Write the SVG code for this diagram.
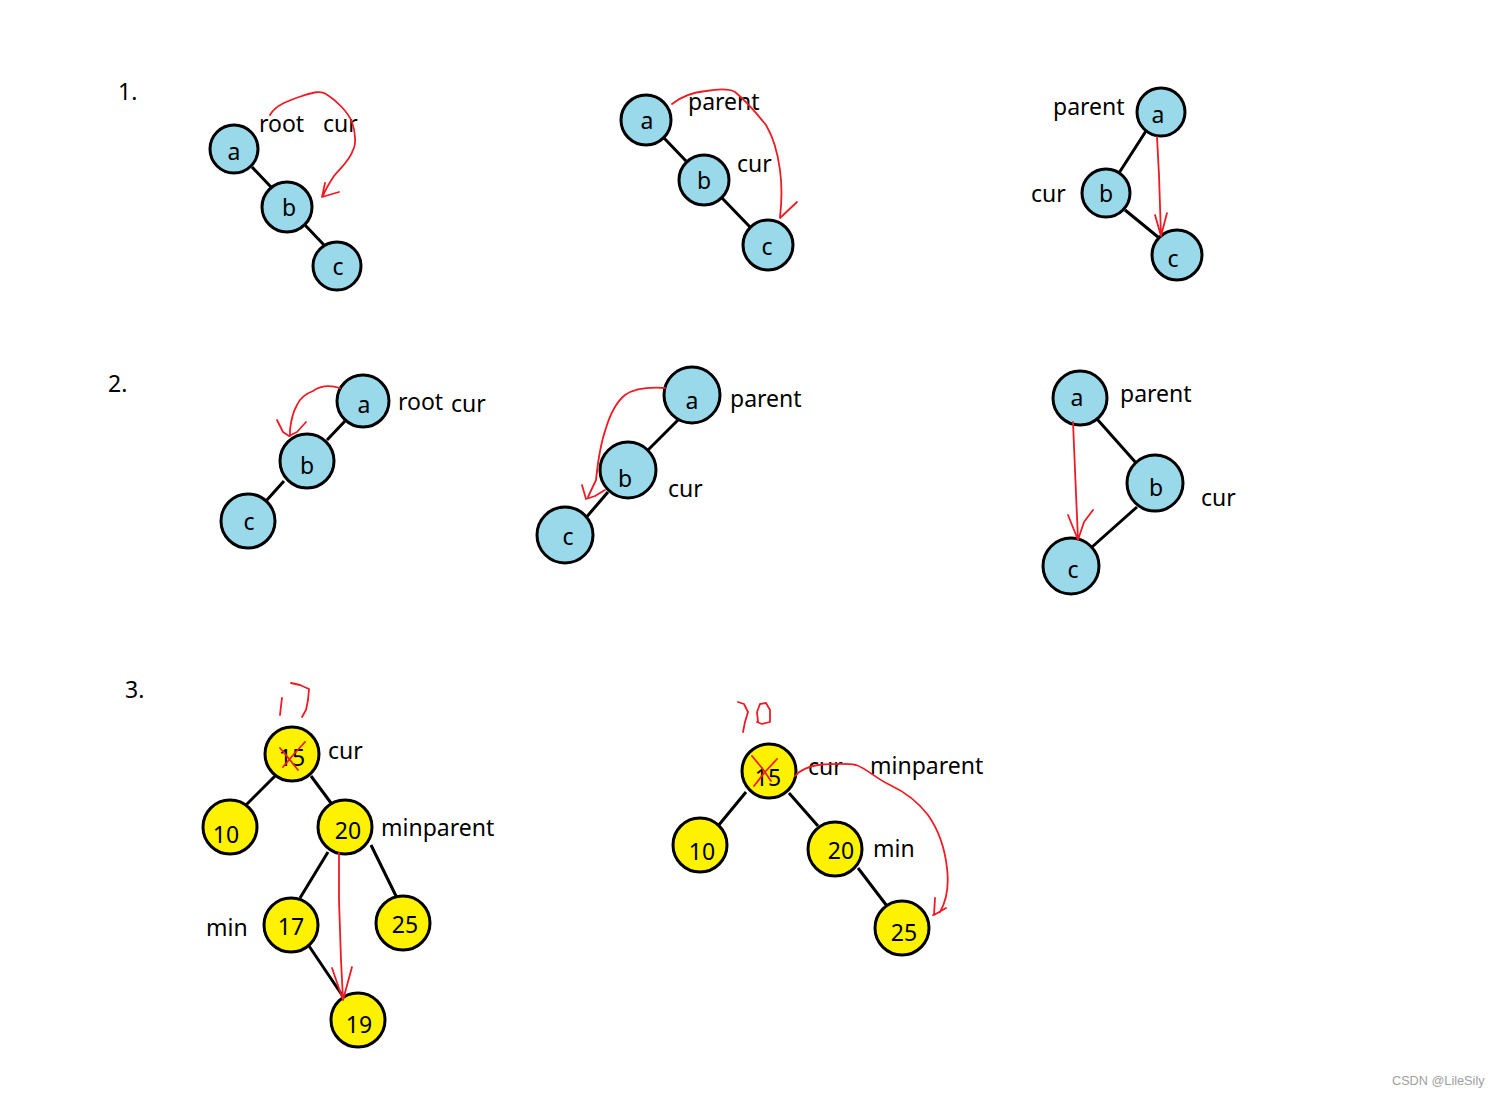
<svg xmlns="http://www.w3.org/2000/svg" width="1500" height="1097" viewBox="0 0 1500 1097">
<style>
.b{fill:#99d9ea;stroke:#000;stroke-width:3}
.y{fill:#fff200;stroke:#000;stroke-width:3}
.t{font-family:"Noto Sans","Open Sans","Liberation Sans",sans-serif;font-size:23px;fill:#000}
.n{font-family:"Noto Sans","Open Sans","Liberation Sans",sans-serif;font-size:23px;fill:#000;text-anchor:middle}
.e{stroke:#000;stroke-width:3;fill:none}
.r{stroke:#ed1c24;stroke-width:1.8;fill:none;stroke-linecap:round;stroke-linejoin:round}
</style>
<rect width="1500" height="1097" fill="#fff"/>
<text class="t" x="118" y="100">1.</text>
<text class="t" x="108" y="392">2.</text>
<text class="t" x="125" y="698">3.</text>

<g id="connectors">
<path class="e" d="M252 167L271 187M305 225L324 245"/>
<path class="e" d="M664 138L686 161M722 198L750 227"/>
<path class="e" d="M1146 131L1119 173M1125 210L1158 237"/>
<path class="e" d="M346 420L327 440M284 481L266 501"/>
<path class="e" d="M683 415L645 453M608 492L584 520"/>
<path class="e" d="M1097 419L1137 464M1137 507L1092 547"/>
<path class="e" d="M275 776L243 808M311 776L331 803M328 852L300 898M371 845L396 896M309 946L342 995"/>
<path class="e" d="M746 792L718 826M789 793L818 826M858 868L890 910"/>
</g>

<g id="p1a"><circle class="b" cx="234" cy="149" r="24"/><text class="n" x="234" y="160">a</text></g>
<g id="p1b"><circle class="b" cx="287" cy="207" r="25"/><text class="n" x="289" y="216">b</text></g>
<g id="p1c"><circle class="b" cx="337" cy="266" r="24"/><text class="n" x="338" y="275">c</text></g>
<text class="t" x="259" y="132">root</text>
<text class="t" x="323" y="132">cur</text>
<path class="r" d="M270 115C275 105 290 100 302 96C312 93 320 90 326 94C336 100 348 112 352 122C356 134 356 145 353 150C349 162 340 168 334 176C330 182 326 188 323 196M325 183L322 197L339 192"/>

<g id="p2a"><circle class="b" cx="646" cy="120" r="25"/><text class="n" x="647" y="129">a</text></g>
<g id="p2b"><circle class="b" cx="704" cy="180" r="25"/><text class="n" x="704" y="189">b</text></g>
<g id="p2c"><circle class="b" cx="768" cy="245" r="25"/><text class="n" x="767" y="255">c</text></g>
<text class="t" x="688" y="110">parent</text>
<text class="t" x="737" y="172">cur</text>
<path class="r" d="M672 104C682 96 695 92 706 91C718 89 728 88 735 92C745 100 758 115 766 125C775 140 778 155 780 170C782 185 782 200 780 217M780 218L797 202"/>

<g id="p3a"><circle class="b" cx="1161" cy="112" r="24"/><text class="n" x="1158" y="123">a</text></g>
<g id="p3b"><circle class="b" cx="1106" cy="193" r="24"/><text class="n" x="1106" y="202">b</text></g>
<g id="p3c"><circle class="b" cx="1177" cy="255" r="25"/><text class="n" x="1173" y="267">c</text></g>
<text class="t" x="1053" y="115">parent</text>
<text class="t" x="1031" y="202">cur</text>
<path class="r" d="M1157 137L1159 175L1161 236M1155 215L1161 236L1167 213"/>

<g id="q1a"><circle class="b" cx="363" cy="401" r="26"/><text class="n" x="364" y="413">a</text></g>
<g id="q1b"><circle class="b" cx="307" cy="461" r="27"/><text class="n" x="307" y="474">b</text></g>
<g id="q1c"><circle class="b" cx="248" cy="521" r="27"/><text class="n" x="249" y="530">c</text></g>
<text class="t" x="398" y="410">root</text>
<text class="t" x="451" y="412">cur</text>
<path class="r" d="M340 388C330 385 320 386 313 391C305 394 300 398 297 405C293 412 291 420 290 430L290 436M277 420L283 432L289 436L297 432L306 422"/>

<g id="q2a"><circle class="b" cx="692" cy="395" r="28"/><text class="n" x="692" y="409">a</text></g>
<g id="q2b"><circle class="b" cx="628" cy="470" r="28"/><text class="n" x="625" y="487">b</text></g>
<g id="q2c"><circle class="b" cx="565" cy="535" r="28"/><text class="n" x="568" y="545">c</text></g>
<text class="t" x="730" y="407">parent</text>
<text class="t" x="668" y="497">cur</text>
<path class="r" d="M665 388C650 387 635 388 625 395C615 403 610 415 606 428C600 445 598 460 596 480L588 497M582 485L586 499L595 496L605 490"/>

<g id="q3a"><circle class="b" cx="1080" cy="398" r="27"/><text class="n" x="1077" y="406">a</text></g>
<g id="q3b"><circle class="b" cx="1155" cy="483" r="28"/><text class="n" x="1156" y="496">b</text></g>
<g id="q3c"><circle class="b" cx="1071" cy="566" r="28"/><text class="n" x="1073" y="578">c</text></g>
<text class="t" x="1120" y="402">parent</text>
<text class="t" x="1201" y="506">cur</text>
<path class="r" d="M1073 422L1075 470L1078 540M1068 515L1072 525L1078 540L1084 522L1093 510"/>

<g id="s15"><circle class="y" cx="292" cy="754" r="27"/><text class="n" x="292" y="766">15</text></g>
<g id="s10"><circle class="y" cx="230" cy="827" r="27"/><text class="n" x="226" y="843">10</text></g>
<g id="s20"><circle class="y" cx="345" cy="827" r="27"/><text class="n" x="348" y="839">20</text></g>
<g id="s17"><circle class="y" cx="291" cy="925" r="27"/><text class="n" x="291" y="935">17</text></g>
<g id="s25"><circle class="y" cx="403" cy="923" r="27"/><text class="n" x="405" y="933">25</text></g>
<g id="s19"><circle class="y" cx="358" cy="1020" r="27"/><text class="n" x="359" y="1033">19</text></g>
<text class="t" x="328" y="759">cur</text>
<text class="t" x="381" y="836">minparent</text>
<text class="t" x="206" y="936">min</text>
<path class="r" d="M280 748L290 760L298 770M305 742L294 754L283 767"/>
<path class="r" d="M282 698L281 706L280 715M291 683L300 685L309 689L308 700L306 710L302 717"/>
<path class="r" d="M339 853L339 900L341 960L343 1000M332 968L343 1000L352 967"/>

<g id="t15"><circle class="y" cx="769" cy="771" r="27"/><text class="n" x="768" y="786">15</text></g>
<g id="t10"><circle class="y" cx="700" cy="845" r="27"/><text class="n" x="702" y="860">10</text></g>
<g id="t20"><circle class="y" cx="835" cy="849" r="27"/><text class="n" x="841" y="859">20</text></g>
<g id="t25"><circle class="y" cx="902" cy="928" r="27"/><text class="n" x="904" y="941">25</text></g>
<text class="t" x="808" y="775">cur</text>
<text class="t" x="870" y="774">minparent</text>
<text class="t" x="873" y="857">min</text>
<path class="r" d="M752 756L762 768L771 781M777 759L765 772L754 786"/>
<path class="r" d="M738 702L744 704L748 712L745 722L743 732M758 722L757 712L760 704L766 703L770 710L770 722L762 724L757 722"/>
<path class="r" d="M795 776C800 770 810 766 818 765C830 764 845 763 856 765C866 768 875 778 890 785C905 792 918 802 928 815C940 832 945 850 947 868C949 885 947 900 940 912L933 915M935 898L934 915L946 908"/>

<text x="1392" y="1085" style="font-family:'Liberation Sans',Arial,sans-serif;font-size:12.7px;fill:#a0a0a0">CSDN @LileSily</text>
</svg>
